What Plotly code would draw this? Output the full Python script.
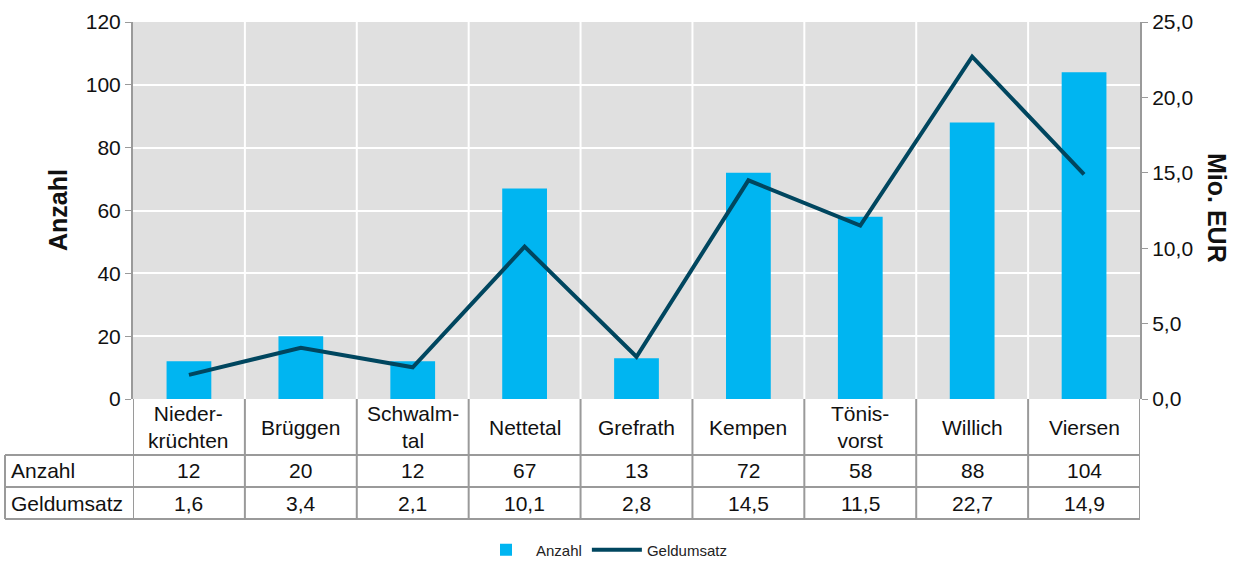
import plotly.graph_objects as go

# data
orte = ["Nieder-<br>krüchten", "Brüggen", "Schwalm-<br>tal", "Nettetal", "Grefrath",
        "Kempen", "Tönis-<br>vorst", "Willich", "Viersen"]
anzahl = [12, 20, 12, 67, 13, 72, 58, 88, 104]
geldumsatz = [1.6, 3.4, 2.1, 10.1, 2.8, 14.5, 11.5, 22.7, 14.9]

BAR = "#00B5F1"
LINE = "#00465F"
GRID = "#9A9A9A"
FONT = "Liberation Sans, Arial"

W, H = 1243, 563
L, R, T, B = 133, 103, 22, 164
ph = H - T - B
pw = W - L - R

def py(pix):
    # pixel row -> paper y
    return (H - B - pix) / ph

def px(pix):
    return (pix - L) / pw

n = len(orte)
xs = list(range(n))

fig = go.Figure()
fig.add_trace(go.Bar(x=xs, y=anzahl, name="Anzahl", marker=dict(color=BAR, line_width=0),
                     width=0.4))
fig.add_trace(go.Scatter(x=xs, y=geldumsatz, name="Geldumsatz", yaxis="y2", mode="lines",
                         line=dict(color=LINE, width=4)))

shapes = []
# vertical gridlines in plot
for i in range(n - 1):
    shapes.append(dict(type="line", xref="x", yref="paper", x0=i + 0.5, x1=i + 0.5, y0=0, y1=1,
                       line=dict(color="white", width=2), layer="below"))

# data table lines
y_hdr, y_r1, y_r2 = py(455), py(487), py(519)
for yy in (y_hdr, y_r1, y_r2):
    shapes.append(dict(type="line", xref="paper", yref="paper", x0=px(5), x1=1, y0=yy, y1=yy,
                       line=dict(color=GRID, width=2)))
for i in range(n + 1):
    shapes.append(dict(type="line", xref="x", yref="paper", x0=i - 0.5, x1=i - 0.5, y0=0, y1=y_r2,
                       line=dict(color=GRID, width=2)))
shapes.append(dict(type="line", xref="paper", yref="paper", x0=px(5), x1=px(5), y0=y_hdr, y1=y_r2,
                   line=dict(color=GRID, width=2)))

ann = []
font = dict(family=FONT, size=21, color="#111")
for i in range(n):
    ann.append(dict(x=i, y=py(427), xref="x", yref="paper", text=orte[i], showarrow=False,
                    font=font, xanchor="center", yanchor="middle"))
    ann.append(dict(x=i, y=py(471), xref="x", yref="paper", text=str(anzahl[i]),
                    showarrow=False, font=font, xanchor="center", yanchor="middle"))
    ann.append(dict(x=i, y=py(503), xref="x", yref="paper",
                    text=f"{geldumsatz[i]:.1f}".replace(".", ","), showarrow=False, font=font,
                    xanchor="center", yanchor="middle"))
ann.append(dict(x=px(9), y=py(471), xref="paper", yref="paper", text="Anzahl",
                showarrow=False, font=font, xanchor="left", yanchor="middle"))
ann.append(dict(x=px(9), y=py(503), xref="paper", yref="paper", text="Geldumsatz",
                showarrow=False, font=font, xanchor="left", yanchor="middle"))
# axis titles
ann.append(dict(x=px(58), y=py(210), xref="paper", yref="paper", text="<b>Anzahl</b>", textangle=-90,
                showarrow=False, xanchor="center", yanchor="middle",
                font=dict(family=FONT, size=25, color="#111")))
ann.append(dict(x=px(1217), y=py(208), xref="paper", yref="paper", text="<b>Mio. EUR</b>", textangle=90,
                showarrow=False, xanchor="center", yanchor="middle",
                font=dict(family=FONT, size=25, color="#111")))

fig.update_layout(
    width=W, height=H,
    margin=dict(l=L, r=R, t=T, b=B, autoexpand=False),
    paper_bgcolor="white", plot_bgcolor="#E0E0E0",
    separators=",.",
    font=dict(family=FONT, size=21, color="#111"),
    xaxis=dict(range=[-0.5, n - 0.5], showticklabels=False, showgrid=False, zeroline=False,
               ticks="", fixedrange=True, automargin=False),
    yaxis=dict(range=[0, 120], dtick=20, showgrid=True, gridcolor="white", gridwidth=2,
               zeroline=False, showline=True, linecolor=GRID, linewidth=2, ticks="outside",
               ticklen=6, tickcolor=GRID, tickfont=dict(size=21), automargin=False),
    yaxis2=dict(range=[0, 25], dtick=5, tickformat=".1f", overlaying="y", side="right",
                showgrid=False, zeroline=False, showline=True, linecolor=GRID, linewidth=2,
                ticks="outside", ticklen=6, tickcolor=GRID, tickfont=dict(size=21),
                automargin=False),
    shapes=shapes, annotations=ann,
    legend=dict(orientation="h", x=px(604), xanchor="center", y=py(550), yanchor="middle",
                font=dict(size=15, color="#222"), bgcolor="rgba(0,0,0,0)",
                itemwidth=50, tracegroupgap=0),
)

# page body has an 8px default margin; drop it so the figure fills the window
fig.write_html("out.html", config={"displayModeBar": False},
               post_script="document.body.style.margin='0';")
